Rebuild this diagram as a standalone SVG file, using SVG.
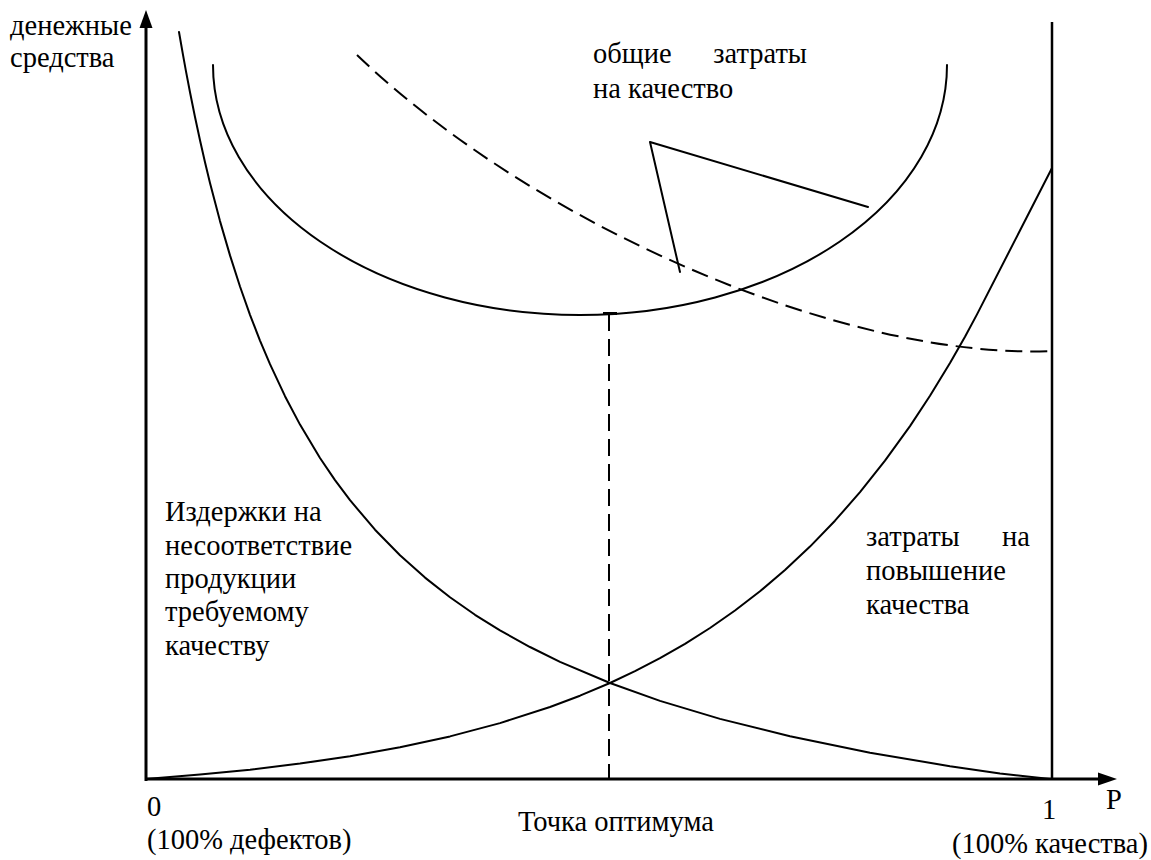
<svg xmlns="http://www.w3.org/2000/svg" width="1151" height="860" viewBox="0 0 1151 860">
  <style>
    text { font-family: 'Liberation Serif', 'DejaVu Serif', serif; font-size: 28.5px; fill: #000; }
    .curve { fill: none; stroke: #000; stroke-width: 2; stroke-linejoin: round; stroke-linecap: round; }
    .dash { fill: none; stroke: #000; stroke-width: 2; stroke-dasharray: 17 8; }
    .axis { fill: none; stroke: #000; stroke-width: 3; }
  </style>
  <rect width="1151" height="860" fill="#fff"/>

  <!-- axes -->
  <g id="axes">
    <line class="axis" x1="146" y1="781" x2="146" y2="26"/>
    <polygon points="146,10 139.5,28 152.5,28" fill="#000"/>
    <line class="axis" x1="145" y1="779" x2="1100" y2="779"/>
    <polygon points="1117,779 1098,772.5 1098,785.5" fill="#000"/>
    <line x1="1052" y1="22" x2="1052" y2="780" stroke="#000" stroke-width="2.5"/>
  </g>

  <g id="connectors">
    <!-- costs of non-conformance: falling curve -->
    <path id="loss-curve" class="curve" d="M179,32 L181,43.5 L183,54.9 L186,71.4 L190,92.3 L195,117 L200,140.3 L205,162.2 L210,182.9 L220,221.1 L230,255.4 L240,286.5 L250,314.8 L260,340.6 L270,364.2 L285,396.2 L300,424.6 L320,458 L335,480.1 L350,500.2 L375,529.7 L400,555.3 L425,577.6 L450,597.3 L475,614.8 L500,630.4 L530,647 L560,661.8 L610,683 L660,700.9 L720,718.9 L790,736.3 L870,752.7 L950,766.2 L1000,773.5 L1050,779"/>
    <!-- quality improvement costs: rising curve -->
    <path id="improve-curve" class="curve" d="M146,779 L200,774.6 L250,769.7 L300,763.6 L350,756.2 L400,747.3 L450,736.4 L500,723.1 L550,707 L580,695.7 L610,683 L635,671.2 L660,658.2 L685,643.8 L710,628 L735,610.5 L760,591.3 L785,570 L810,546.6 L835,520.7 L860,492.2 L885,460.7 L910,426.1 L930,395.7 L950,363 L965,336.7 L977,314.4 L1052,168"/>
    <!-- total cost of quality -->
    <path id="total-curve" class="curve" d="M213,65 A367,250 0 0 0 947,65"/>
    <!-- dashed curve -->
    <path id="dashed-curve" class="dash" d="M357,55 C540,230 850,360 1052,351"/>
    <!-- optimum marker -->
    <line x1="603" y1="313.5" x2="617" y2="313.5" stroke="#000" stroke-width="3"/>
    <line class="dash" x1="609" y1="314" x2="609" y2="779" stroke-dasharray="14 7"/>
    <!-- label pointer -->
    <polyline class="curve" points="680,272 650,142 868,207"/>
  </g>

  <g id="label-y">
    <text x="10" y="35">денежные</text>
    <text x="10" y="67">средства</text>
  </g>
  <g id="label-total">
    <text x="593" y="63">общие</text>
    <text x="807" y="63" text-anchor="end">затраты</text>
    <text x="593" y="98">на качество</text>
  </g>
  <g id="label-loss">
    <text x="165" y="521">Издержки на</text>
    <text x="165" y="555">несоответствие</text>
    <text x="165" y="588">продукции</text>
    <text x="165" y="621">требуемому</text>
    <text x="165" y="655">качеству</text>
  </g>
  <g id="label-improve">
    <text x="866" y="546">затраты</text>
    <text x="1030" y="546" text-anchor="end">на</text>
    <text x="866" y="580">повышение</text>
    <text x="866" y="614">качества</text>
  </g>
  <g id="label-x">
    <text x="147" y="816">0</text>
    <text x="147" y="849">(100% дефектов)</text>
    <text x="518" y="831">Точка оптимума</text>
    <text x="1042" y="819">1</text>
    <text x="1106" y="809">P</text>
    <text x="1148" y="853" text-anchor="end">(100% качества)</text>
  </g>
</svg>
